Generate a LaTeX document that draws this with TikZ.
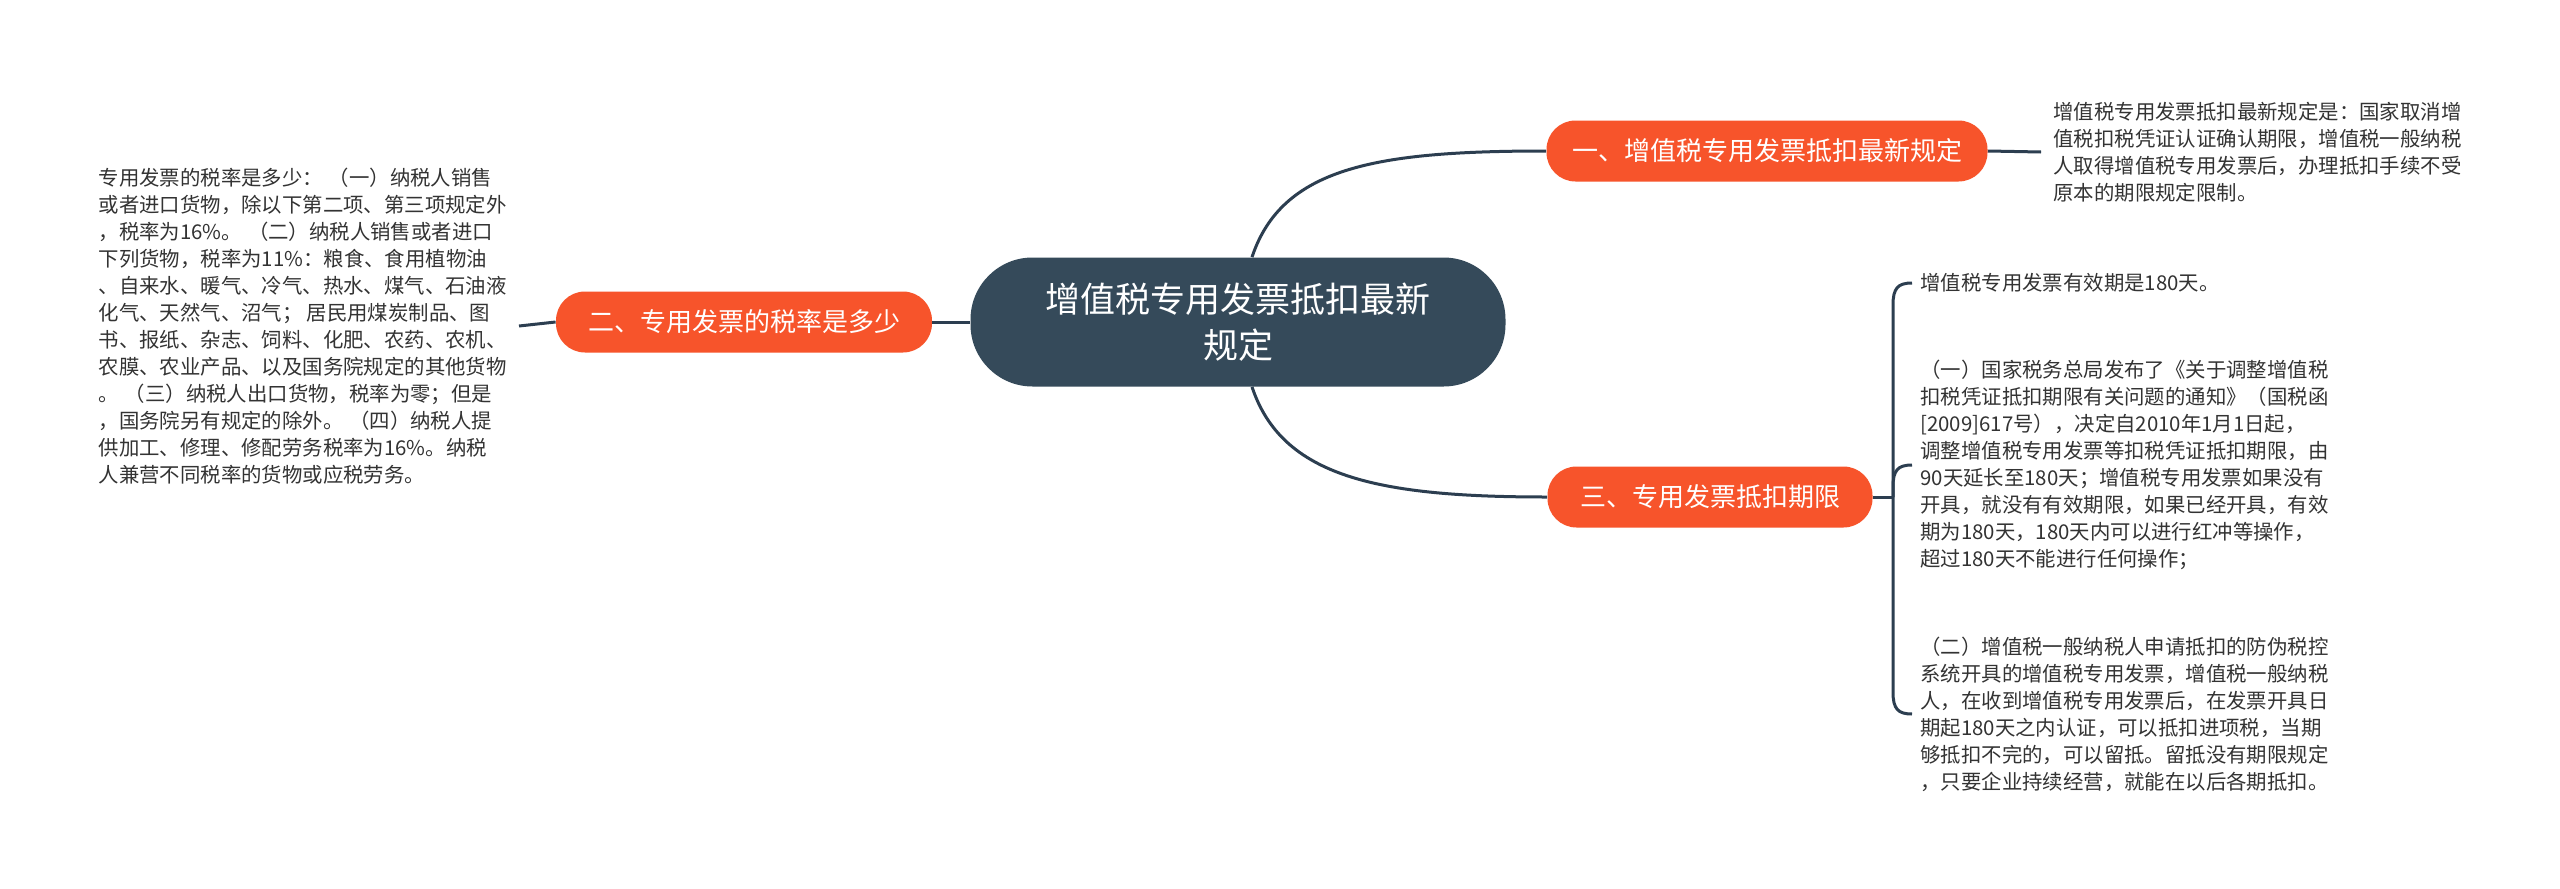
\documentclass[tikz,border=0pt]{standalone}
\usepackage{fontspec}
\setmainfont{Noto Sans CJK SC}
\definecolor{slate}{HTML}{354A5A}
\definecolor{orng}{HTML}{F7542B}
\definecolor{linec}{HTML}{2C3E50}
\definecolor{txt}{HTML}{333333}
\begin{document}
\begin{tikzpicture}[x=0.5pt,y=-0.5pt,
  central/.style={fill=slate,text=white,rounded corners=31pt,minimum width=267.5pt,minimum height=64.5pt,align=center,inner sep=0pt,font=\fontsize{17.5}{23}\selectfont},
  branch/.style={fill=orng,text=white,rounded corners=14.5pt,minimum height=30.5pt,inner sep=0pt,font=\fontsize{13}{16}\selectfont},
  leaf/.style={text=txt,align=left,inner ysep=0pt,inner xsep=4pt,font=\fontsize{10.2}{13.5}\selectfont},
  conn/.style={draw=linec,line width=1.5pt}]
\useasboundingbox[fill=white] (0,0) rectangle (2560,889);

\node[central] (c) at (1238,322) {增值税专用发票抵扣最新\\规定};
\node[branch,minimum width=220.5pt] (b1) at (1767,151) {一、增值税专用发票抵扣最新规定};
\node[branch,minimum width=188pt] (b2) at (744,322) {二、专用发票的税率是多少};
\node[branch,minimum width=162.5pt] (b3) at (1710,497) {三、专用发票抵扣期限};

\node[leaf,anchor=west,inner xsep=6pt] (t1) at (2041,152) {增值税专用发票抵扣最新规定是：国家取消增\\值税扣税凭证认证确认期限，增值税一般纳税\\人取得增值税专用发票后，办理抵扣手续不受\\原本的期限规定限制。};

\node[leaf,anchor=east,inner xsep=6pt] (t2) at (519,326) {专用发票的税率是多少：\hspace{3pt}（一）纳税人销售\\或者进口货物，除以下第二项、第三项规定外\\，税率为16\%。\hspace{3pt}（二）纳税人销售或者进口\\下列货物，税率为11\%：粮食、食用植物油\\、自来水、暖气、冷气、热水、煤气、石油液\\化气、天然气、沼气；\hspace{2pt}居民用煤炭制品、图\\书、报纸、杂志、饲料、化肥、农药、农机、\\农膜、农业产品、以及国务院规定的其他货物\\。\hspace{3pt}（三）纳税人出口货物，税率为零；但是\\，国务院另有规定的除外。\hspace{3pt}（四）纳税人提\\供加工、修理、修配劳务税率为16\%。纳税\\人兼营不同税率的货物或应税劳务。};

\node[leaf,anchor=west] (l1) at (1912,283) {增值税专用发票有效期是180天。};
\node[leaf,anchor=west] (l2) at (1912,465) {（一）国家税务总局发布了《关于调整增值税\\扣税凭证抵扣期限有关问题的通知》（国税函\\{}[2009]617号），决定自2010年1月1日起，\\调整增值税专用发票等扣税凭证抵扣期限，由\\90天延长至180天；增值税专用发票如果没有\\开具，就没有有效期限，如果已经开具，有效\\期为180天，180天内可以进行红冲等操作，\\超过180天不能进行任何操作；};
\node[leaf,anchor=west] (l3) at (1912,714) {（二）增值税一般纳税人申请抵扣的防伪税控\\系统开具的增值税专用发票，增值税一般纳税\\人，在收到增值税专用发票后，在发票开具日\\期起180天之内认证，可以抵扣进项税，当期\\够抵扣不完的，可以留抵。留抵没有期限规定\\，只要企业持续经营，就能在以后各期抵扣。};

% connectors
\draw[conn] ([xshift=7pt]c.north) .. controls +(30,-90) and +(-170,0) .. (b1.west);
\draw[conn] ([xshift=7pt]c.south) .. controls +(30,90) and +(-170,0) .. (b3.west);
\draw[conn] (c.west) -- (b2.east);
\draw[conn] (b2.west) -- (t2.east);
\draw[conn] (b1.east) -- (t1.west);

\coordinate (br) at (1893,497);
\draw[conn] (b3.east) -- (br);
\draw[conn] (br) -- (1893,305) .. controls (1893,288) and (1898,283) .. (l1.west);
\draw[conn] (br) -- (1893,487) .. controls (1893,470) and (1898,465) .. (l2.west);
\draw[conn] (br) -- (1893,692) .. controls (1893,709) and (1898,714) .. (l3.west);
\end{tikzpicture}
\end{document}
